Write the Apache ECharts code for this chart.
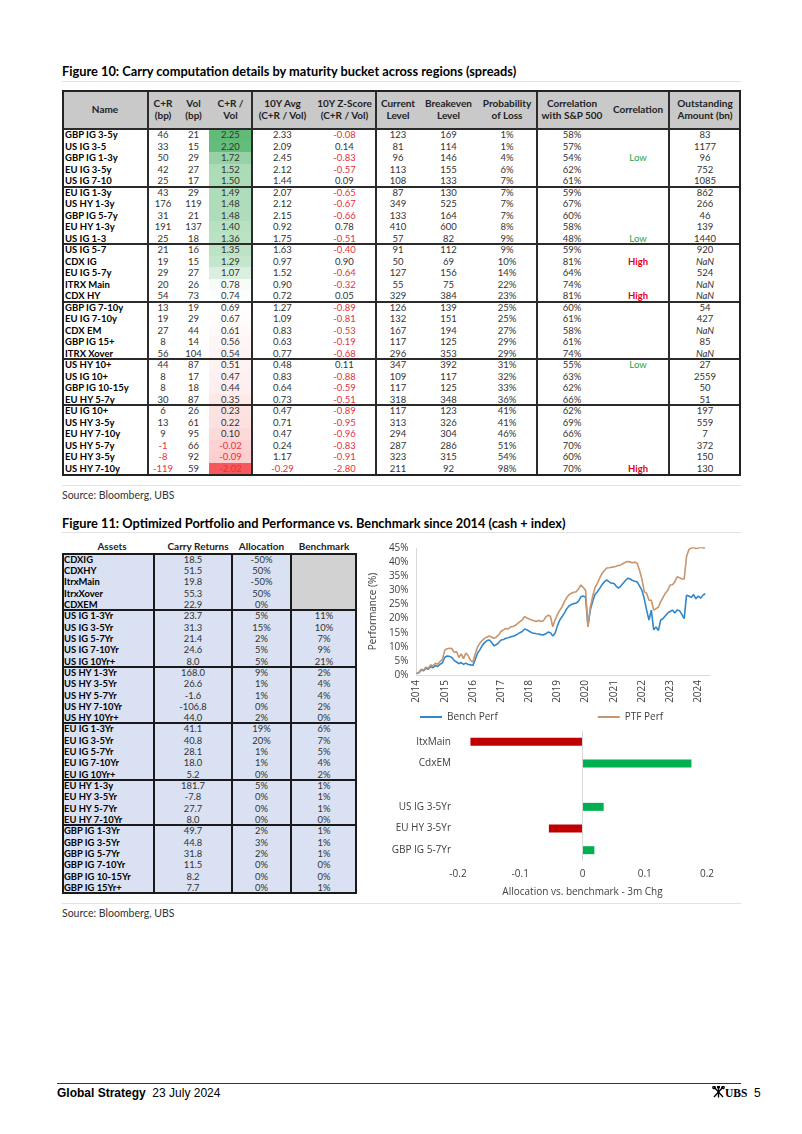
<!DOCTYPE html>
<html><head><meta charset="utf-8">
<script src="https://cdn.jsdelivr.net/npm/echarts@6/dist/echarts.min.js"></script>
<style>
html,body{margin:0;padding:0;background:#fff;}
body{width:802px;height:1134px;position:relative;overflow:hidden;font-family:'Lato',sans-serif;color:#222;}
.abs{position:absolute;}
.title{font-weight:700;font-size:12.8px;color:#000;white-space:nowrap;}
.rule{height:1px;background:#e3e3e3;}
.src{font-size:10.5px;color:#333;white-space:nowrap;}
.tb{position:absolute;}
.tb div{position:absolute;white-space:nowrap;}
.c{text-align:center;}
.t1txt{font-size:9.5px;line-height:11.5px;height:11.5px;color:#333;}
.t1hd{font-size:10px;line-height:11.5px;font-weight:700;color:#222;text-align:center;}
.t2txt{font-size:9.4px;line-height:11.32px;height:11.32px;color:#333;}
.t2hd{font-size:10px;line-height:12px;font-weight:700;color:#222;text-align:center;}
.nm{font-weight:700;color:#000 !important;text-align:left;}
.neg{color:#e8303a !important;}
.low{color:#1aa64a !important;}
.high{color:#e3001b !important;font-weight:700;}
.nan{font-style:italic;}
.ln{background:#2b2b2b;}
.box{border:2px solid #222;box-sizing:border-box;}
.foot{font-family:'Liberation Sans Narrow','Liberation Sans',sans-serif;font-size:12px;color:#000;white-space:nowrap;}
</style></head>
<body>
<div class="abs title" style="left:62px;top:63px;">Figure 10: Carry computation details by maturity bucket across regions (spreads)</div>
<div class="abs rule" style="left:62px;top:81px;width:679px;"></div>
<div id="t1" class="tb" style="left:62px;top:90px;width:679px;height:386px;"></div>
<div class="abs rule" style="left:62px;top:485px;width:679px;"></div>
<div class="abs src" style="left:62px;top:489px;">Source: Bloomberg, UBS</div>

<div class="abs title" style="left:62px;top:515px;">Figure 11: Optimized Portfolio and Performance vs. Benchmark since 2014 (cash + index)</div>
<div class="abs rule" style="left:62px;top:532px;width:679px;"></div>
<div id="t2h" class="tb" style="left:62px;top:540px;width:295px;height:12px;"></div>
<div id="t2" class="tb" style="left:62px;top:552.7px;width:295px;height:340.6px;"></div>
<div id="chart" class="abs" style="left:360px;top:535px;width:385px;height:368px;"></div>
<div class="abs rule" style="left:62px;top:903px;width:679px;"></div>
<div class="abs src" style="left:62px;top:907px;">Source: Bloomberg, UBS</div>

<div class="abs" style="left:57px;top:1083px;width:684px;height:1px;background:#333;"></div>
<div class="abs foot" style="left:57px;top:1086px;"><b>Global Strategy</b>&nbsp; 23 July 2024</div>
<div class="abs foot" style="left:712px;top:1086px;">
<svg width="13" height="12" viewBox="0 0 13 12" style="vertical-align:-1px"><g stroke="#000" stroke-width="1.3" fill="none"><line x1="2" y1="1" x2="11" y2="11"/><line x1="11" y1="1" x2="2" y2="11"/><line x1="6.5" y1="0.5" x2="6.5" y2="11.5"/><circle cx="2" cy="1.5" r="1.2"/><circle cx="11" cy="1.5" r="1.2"/><circle cx="6.5" cy="1" r="1"/></g></svg><span style="font-family:'Liberation Serif',serif;font-weight:700;font-size:11.5px;">UBS</span>&nbsp; 5</div>

<script>
// ---------- Figure 10 data ----------
const t1Names = ['GBP IG 3-5y','US IG 3-5','GBP IG 1-3y','EU IG 3-5y','US IG 7-10','EU IG 1-3y','US HY 1-3y','GBP IG 5-7y','EU HY 1-3y','US IG 1-3','US IG 5-7','CDX IG','EU IG 5-7y','ITRX Main','CDX HY','GBP IG 7-10y','EU IG 7-10y','CDX EM','GBP IG 15+','ITRX Xover','US HY 10+','US IG 10+','GBP IG 10-15y','EU HY 5-7y','EU IG 10+','US HY 3-5y','EU HY 7-10y','US HY 5-7y','EU HY 3-5y','US HY 7-10y'];
const t1CR = [46,33,50,42,25,43,176,31,191,25,21,19,29,20,54,13,19,27,8,56,44,8,8,30,6,13,9,-1,-8,-119];
const t1Vol = [21,15,29,27,17,29,119,21,137,18,16,15,27,26,73,19,29,44,14,104,87,17,18,87,26,61,95,66,92,59];
const t1Ratio = [2.25,2.20,1.72,1.52,1.50,1.49,1.48,1.48,1.40,1.36,1.35,1.29,1.07,0.78,0.74,0.69,0.67,0.61,0.56,0.54,0.51,0.47,0.44,0.35,0.23,0.22,0.10,-0.02,-0.09,-2.02];
const t1Avg = [2.33,2.09,2.45,2.12,1.44,2.07,2.12,2.15,0.92,1.75,1.63,0.97,1.52,0.90,0.72,1.27,1.09,0.83,0.63,0.77,0.48,0.83,0.64,0.73,0.47,0.71,0.47,0.24,1.17,-0.29];
const t1Z = [-0.08,0.14,-0.83,-0.57,0.09,-0.65,-0.67,-0.66,0.78,-0.51,-0.40,0.90,-0.64,-0.32,0.05,-0.89,-0.81,-0.53,-0.19,-0.68,0.11,-0.88,-0.59,-0.51,-0.89,-0.95,-0.96,-0.83,-0.91,-2.80];
const t1Cur = [123,81,96,113,108,87,349,133,410,57,91,50,127,55,329,126,132,167,117,296,347,109,117,318,117,313,294,287,323,211];
const t1Brk = [169,114,146,155,133,130,525,164,600,82,112,69,156,75,384,139,151,194,125,353,392,117,125,348,123,326,304,286,315,92];
const t1Prob = [1,1,4,6,7,7,7,7,8,9,9,10,14,22,23,25,25,27,29,29,31,32,33,36,41,41,46,51,54,98];
const t1Corr = [58,57,54,62,61,59,67,60,58,48,59,81,64,74,81,60,61,58,61,74,55,63,62,66,62,69,66,70,60,70];
const t1Flag = ['','','Low','','','','','','','Low','','High','','','High','','','','','','Low','','','','','','','','','High'];
const t1Out = [83,1177,96,752,1085,862,266,46,139,1440,920,null,524,null,null,54,427,null,85,null,27,2559,50,51,197,559,7,372,150,130];
const t1Groups = [5,5,5,5,4,6];
const t1Headers = ['Name','C+R<br>(bp)','Vol<br>(bp)','C+R /<br>Vol','10Y Avg<br>(C+R / Vol)','10Y Z-Score<br>(C+R / Vol)','Current<br>Level','Breakeven<br>Level','Probability<br>of Loss','Correlation<br>with S&amp;P 500','Correlation','Outstanding<br>Amount (bn)'];

// ---------- Figure 11 table data ----------
const t2Headers = ['Assets','Carry Returns','Allocation','Benchmark'];
const t2Assets = ['CDXIG','CDXHY','ItrxMain','ItrxXover','CDXEM','US IG 1-3Yr','US IG 3-5Yr','US IG 5-7Yr','US IG 7-10Yr','US IG 10Yr+','US HY 1-3Yr','US HY 3-5Yr','US HY 5-7Yr','US HY 7-10Yr','US HY 10Yr+','EU IG 1-3Yr','EU IG 3-5Yr','EU IG 5-7Yr','EU IG 7-10Yr','EU IG 10Yr+','EU HY 1-3y','EU HY 3-5Yr','EU HY 5-7Yr','EU HY 7-10Yr','GBP IG 1-3Yr','GBP IG 3-5Yr','GBP IG 5-7Yr','GBP IG 7-10Yr','GBP IG 10-15Yr','GBP IG 15Yr+'];
const t2Carry = [18.5,51.5,19.8,55.3,22.9,23.7,31.3,21.4,24.6,8.0,168.0,26.6,-1.6,-106.8,44.0,41.1,40.8,28.1,18.0,5.2,181.7,-7.8,27.7,8.0,49.7,44.8,31.8,11.5,8.2,7.7];
const t2Alloc = [-50,50,-50,50,0,5,15,2,5,5,9,1,1,0,2,19,20,1,1,0,5,0,0,0,2,3,2,0,0,0];
const t2Bench = [null,null,null,null,null,11,10,7,9,21,2,4,4,2,0,6,7,5,4,2,1,1,1,0,1,1,1,0,0,1];
const t2Groups = [5,5,5,5,4,6];

// ---------- Line chart data (monthly, Jan 2014 - Apr 2024) ----------
const benchPerf = [
0.5,0.8,1.8,1.5,2.4,2.0,3.0,2.6,3.4,3.0,3.8,4.3,
6.3,6.7,6.6,6.2,5.2,4.6,4.0,4.4,3.8,4.2,3.7,3.6,
3.4,5.5,7.8,9.0,10.5,11.5,12.2,12.4,11.5,10.3,10.8,11.5,
12.4,12.6,13.0,13.2,13.5,13.7,14.0,14.5,15.0,15.4,16.3,16.0,
15.5,15.0,14.8,14.6,14.5,14.3,14.2,14.6,15.2,15.0,13.8,14.8,
17.5,19.5,20.7,22.0,23.5,24.5,25.0,25.3,25.5,26.2,27.7,28.0,
27.5,17.3,23.0,26.0,28.5,29.5,30.7,32.0,33.0,33.7,33.0,32.5,
32.5,31.5,30.8,31.5,32.5,33.5,34.3,34.0,33.5,33.2,33.0,31.5,
30.0,27.0,23.0,19.5,23.0,16.0,17.0,15.7,19.5,20.0,21.0,22.0,
22.5,23.0,22.0,23.0,22.8,21.5,20.0,28.3,28.0,27.5,28.5,27.0,
28.0,27.2,28.3,28.8];
const ptfPerf = [
0.5,1.0,2.0,1.8,2.8,2.4,3.6,3.2,4.2,3.8,4.8,5.5,
8.8,9.3,9.5,9.4,8.0,8.3,6.2,7.5,5.8,7.8,6.8,5.2,
4.6,7.5,10.0,11.3,12.3,13.0,13.5,13.8,13.4,13.0,13.5,14.2,
15.5,16.0,16.5,16.3,17.0,17.2,17.5,18.2,18.9,19.5,20.7,20.2,
19.8,19.5,19.2,19.0,19.3,19.0,19.2,20.5,21.2,20.8,17.1,19.5,
21.5,23.0,24.2,26.0,27.5,28.5,29.0,29.3,29.5,30.5,31.9,31.0,
30.0,17.0,24.0,27.8,31.0,32.5,34.3,36.0,37.0,37.9,38.0,38.2,
38.3,38.5,38.8,39.0,39.5,40.0,40.2,40.0,39.8,40.0,39.5,37.0,
34.0,29.5,29.0,26.5,26.5,23.0,23.5,24.0,26.0,27.5,29.0,30.0,
31.9,32.0,33.0,34.8,34.5,34.0,34.0,42.0,44.5,45.0,45.2,44.8,
45.0,45.3,45.0,45.2];
const firstYear = 2014, lastYear = 2024, lastMonth = 6;
const yTicks = {min:0, max:45, interval:5};

// ---------- Bar chart data ----------
const barCats = ['ItxMain','CdxEM','','US IG 3-5Yr','EU HY 3-5Yr','GBP IG 5-7Yr'];
const barVals = [-0.18,0.175,null,0.034,-0.054,0.019];
const barTicks = {min:-0.2, max:0.2, interval:0.1};

// ---------- helpers ----------
function mk(parent, cls, css, html){
  const d = document.createElement('div');
  if (cls) d.className = cls;
  d.style.cssText = css;
  if (html !== undefined) d.innerHTML = html;
  parent.appendChild(d);
  return d;
}
function groupStarts(groups){ const s=[]; let a=0; groups.forEach(g=>{s.push(a); a+=g;}); return s; }

// ---------- build table 1 ----------
(function(){
  const root = document.getElementById('t1');
  const sorted = t1Ratio.slice().sort((a,b)=>a-b);
  const n = sorted.length;
  const med = n%2 ? sorted[(n-1)/2] : (sorted[n/2-1]+sorted[n/2])/2;
  const mn = sorted[0], mx = sorted[n-1];
  function heat(v){
    if (v >= med) return echarts.color.lerp((v-med)/(mx-med), ['#ffffff','#5fbb76']);
    return echarts.color.lerp((med-v)/(med-mn), ['#ffffff','#f5595c']);
  }
  const widths = [86,30,31,43,61,63,44,57,60,70,62,72];
  const xs = []; let a=0; widths.forEach(w=>{xs.push(a); a+=w;});
  const W = a, headH = 39.25, rowH = 11.5;
  const H = headH + n*rowH + 1.5;
  mk(root, '', 'left:0;top:0;width:'+W+'px;height:'+headH+'px;background:#c9c9c9;');
  t1Headers.forEach((t,i)=>{
    const twoLine = t.indexOf('<br>')>=0;
    mk(root, 't1hd', 'left:'+xs[i]+'px;width:'+widths[i]+'px;top:'+(twoLine?8:14)+'px;', t);
  });
  const f2 = v=>v.toFixed(2);
  for (let r=0;r<n;r++){
    const top = headH + r*rowH;
    mk(root, '', 'left:'+xs[3]+'px;width:'+widths[3]+'px;top:'+top+'px;height:'+rowH+'px;background:'+heat(t1Ratio[r])+';');
    const cells = [
      {t:t1Names[r], c:'nm'},
      {t:String(t1CR[r]), c:t1CR[r]<0?'neg':''},
      {t:String(t1Vol[r]), c:''},
      {t:f2(t1Ratio[r]), c:t1Ratio[r]<0?'neg':''},
      {t:f2(t1Avg[r]), c:t1Avg[r]<0?'neg':''},
      {t:f2(t1Z[r]), c:t1Z[r]<0?'neg':''},
      {t:String(t1Cur[r]), c:''},
      {t:String(t1Brk[r]), c:''},
      {t:t1Prob[r]+'%', c:''},
      {t:t1Corr[r]+'%', c:''},
      {t:t1Flag[r], c:t1Flag[r]==='Low'?'low':(t1Flag[r]==='High'?'high':'')},
      {t:t1Out[r]===null?'NaN':String(t1Out[r]), c:t1Out[r]===null?'nan':''}
    ];
    cells.forEach((c,i)=>{
      if (!c.t) return;
      if (i===0) mk(root, 't1txt nm', 'left:'+(xs[0]+3)+'px;top:'+top+'px;', c.t);
      else mk(root, 't1txt c '+c.c, 'left:'+xs[i]+'px;width:'+widths[i]+'px;top:'+top+'px;', c.t);
    });
  }
  mk(root, 'ln', 'left:0;width:'+W+'px;top:'+(headH-1.5)+'px;height:2px;');
  groupStarts(t1Groups).forEach((s,k)=>{ if(k>0) mk(root,'ln','left:0;width:'+W+'px;top:'+(headH+s*rowH-1)+'px;height:2px;'); });
  [1,4,6,9,11].forEach(i=>mk(root,'ln','left:'+(xs[i]-1)+'px;width:2px;top:0;height:'+H+'px;'));
  mk(root, 'box', 'left:0;top:0;width:'+W+'px;height:'+H+'px;');
})();

// ---------- build table 2 ----------
(function(){
  const head = document.getElementById('t2h');
  const root = document.getElementById('t2');
  const widths = [92,78,59,66];
  const hdShift = [4,5,0,0];
  const xs = []; let a=0; widths.forEach(w=>{xs.push(a); a+=w;});
  const W = a, rowH = 11.32, n = t2Assets.length, off = 1;
  const H = off*2 + n*rowH;
  t2Headers.forEach((t,i)=>mk(head,'t2hd','left:'+(xs[i]+hdShift[i])+'px;width:'+widths[i]+'px;top:0;',t));
  mk(root, '', 'left:0;top:0;width:'+W+'px;height:'+H+'px;background:#d9e1f2;');
  let k=0; while(k<n && t2Bench[k]===null) k++;
  if (k>0) mk(root, '', 'left:'+xs[3]+'px;width:'+widths[3]+'px;top:0;height:'+(off+k*rowH)+'px;background:#d2d2d2;');
  for (let r=0;r<n;r++){
    const top = off + r*rowH;
    mk(root, 't2txt nm', 'left:'+(xs[0]+2)+'px;top:'+top+'px;', t2Assets[r]);
    mk(root, 't2txt c', 'left:'+xs[1]+'px;width:'+widths[1]+'px;top:'+top+'px;', t2Carry[r].toFixed(1));
    mk(root, 't2txt c', 'left:'+xs[2]+'px;width:'+widths[2]+'px;top:'+top+'px;', t2Alloc[r]+'%');
    if (t2Bench[r]!==null) mk(root, 't2txt c', 'left:'+xs[3]+'px;width:'+widths[3]+'px;top:'+top+'px;', t2Bench[r]+'%');
  }
  groupStarts(t2Groups).forEach((s,j)=>{ if(j>0) mk(root,'ln','left:0;width:'+W+'px;top:'+(off+s*rowH-1)+'px;height:2px;background:#1a1a1a;'); });
  [1,2,3].forEach(i=>mk(root,'ln','left:'+(xs[i]-1)+'px;width:2px;top:0;height:'+H+'px;background:#1a1a1a;'));
  mk(root, 'box', 'left:0;top:0;width:'+W+'px;height:'+H+'px;border-color:#1a1a1a;');
})();

// ---------- charts ----------
const months = [];
for (let y=firstYear; y<=lastYear; y++){
  for (let m=1; m<=12; m++){
    if (y===lastYear && m>lastMonth) break;
    months.push(y+'-'+(m<10?'0'+m:m));
  }
}
const chart = echarts.init(document.getElementById('chart'), null, {renderer:'canvas'});
const axisTxt = {color:'#404040', fontSize:10, fontFamily:'Open Sans'};
chart.setOption({
  animation:false,
  textStyle:{fontFamily:'Open Sans', color:'#404040'},
  legend:{
    data:['Bench Perf','PTF Perf'], left:55, top:172, itemGap:100, itemWidth:22, itemHeight:10,
    textStyle:{color:'#404040', fontSize:10}, icon:'path://M0,4 L22,4 L22,6 L0,6 Z'
  },
  grid:[
    {left:53, top:13, width:297, height:127},
    {left:98, top:196, width:249, height:130}
  ],
  xAxis:[
    {type:'category', gridIndex:0, data:months, boundaryGap:false,
     axisLine:{lineStyle:{color:'#d9d9d9'}}, axisTick:{show:false},
     axisLabel:Object.assign({rotate:90, margin:5, interval:(i)=>i%12===0, formatter:(v)=>v.slice(0,4)}, axisTxt)},
    {type:'value', gridIndex:1, min:barTicks.min, max:barTicks.max, interval:barTicks.interval,
     axisLine:{show:false}, axisTick:{show:false}, splitLine:{show:false},
     axisLabel:Object.assign({margin:8, formatter:(v)=>String(Math.round(v*10)/10)}, axisTxt),
     name:'Allocation vs. benchmark - 3m Chg', nameLocation:'middle', nameGap:26,
     nameTextStyle:{color:'#404040', fontSize:10}}
  ],
  yAxis:[
    {type:'value', gridIndex:0, min:yTicks.min, max:yTicks.max, interval:yTicks.interval,
     axisLine:{show:true, lineStyle:{color:'#d9d9d9'}}, axisTick:{show:false}, splitLine:{show:false},
     axisLabel:Object.assign({margin:8, formatter:'{value}%'}, axisTxt),
     name:'Performance (%)', nameLocation:'middle', nameGap:34, nameRotate:90,
     nameTextStyle:{color:'#404040', fontSize:10}},
    {type:'category', gridIndex:1, data:barCats, inverse:true,
     axisLine:{show:false}, axisTick:{show:false},
     axisLabel:Object.assign({margin:7}, axisTxt)}
  ],
  series:[
    {name:'Bench Perf', type:'line', xAxisIndex:0, yAxisIndex:0, data:benchPerf, showSymbol:false, symbol:'none',
     lineStyle:{color:'#3087c9', width:1.6}, itemStyle:{color:'#3087c9'}},
    {name:'PTF Perf', type:'line', xAxisIndex:0, yAxisIndex:0, data:ptfPerf, showSymbol:false, symbol:'none',
     lineStyle:{color:'#c8956d', width:1.6}, itemStyle:{color:'#c8956d'}},
    {name:'Alloc', type:'bar', xAxisIndex:1, yAxisIndex:1, data:barVals, barWidth:8,
     itemStyle:{color:(p)=>p.value<0?'#c00000':'#00b050'},
     markLine:{silent:true, symbol:'none', label:{show:false}, lineStyle:{color:'#d9d9d9', type:'solid', width:1},
       data:[{xAxis:0}]}}
  ]
});
</script>
</body></html>
